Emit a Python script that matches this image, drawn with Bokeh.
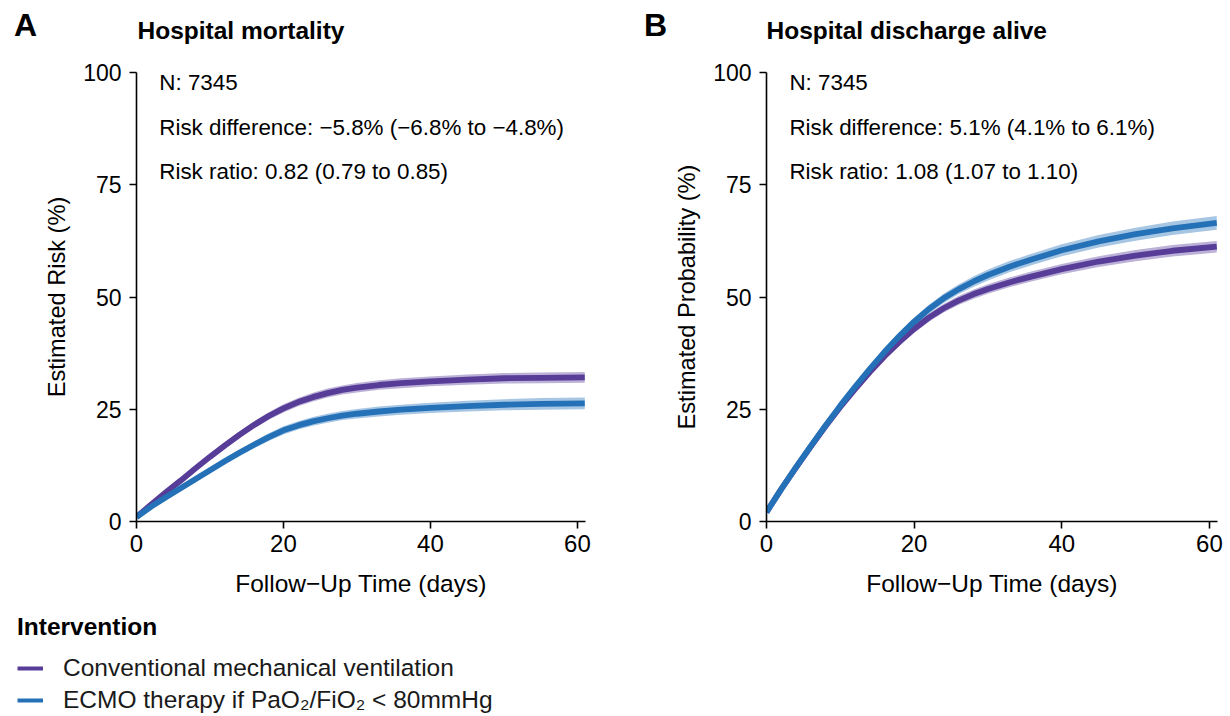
from bokeh.plotting import figure
from bokeh.layouts import row, column
from bokeh.models import ColumnDataSource, Legend, LegendItem, FixedTicker, Range1d
from bokeh.core.properties import value
from bokeh.embed import file_html
from bokeh.resources import INLINE

# ---------------- data ----------------
days = [0, 2, 4, 6, 8, 10, 12, 14, 16, 18, 20, 22, 24, 26, 28, 30, 33, 36, 40, 45, 50, 55, 61]

# Panel A: hospital mortality (%)
mort_cmv = [1.0, 3.8, 6.5, 9.1, 11.8, 14.4, 16.9, 19.3, 21.5, 23.5, 25.2, 26.6, 27.7, 28.6,
            29.3, 29.8, 30.4, 30.8, 31.2, 31.6, 31.9, 32.0, 32.1]
mort_cmv_hw = [0.3, 0.4, 0.5, 0.55, 0.6, 0.65, 0.7, 0.75, 0.8, 0.85, 0.9, 0.92, 0.95, 1.0,
               1.0, 1.05, 1.05, 1.1, 1.1, 1.15, 1.15, 1.2, 1.2]
mort_ecmo = [1.0, 3.3, 5.4, 7.4, 9.4, 11.4, 13.4, 15.3, 17.1, 18.8, 20.3, 21.4, 22.3, 23.0,
             23.6, 24.0, 24.5, 24.9, 25.3, 25.7, 26.0, 26.2, 26.3]
mort_ecmo_hw = [0.3, 0.4, 0.5, 0.55, 0.6, 0.65, 0.7, 0.75, 0.8, 0.85, 0.9, 0.92, 0.95, 1.0,
                1.0, 1.05, 1.1, 1.1, 1.15, 1.2, 1.25, 1.3, 1.3]

# Panel B: hospital discharge alive (%)
disc_cmv = [2.1, 7.2, 12.0, 16.7, 21.2, 25.5, 29.5, 33.3, 36.8, 40.0, 42.9, 45.4, 47.5, 49.2,
            50.6, 51.8, 53.3, 54.6, 56.2, 57.9, 59.2, 60.3, 61.2]
disc_cmv_hw = [0.3, 0.4, 0.5, 0.55, 0.6, 0.65, 0.7, 0.75, 0.8, 0.85, 0.9, 0.92, 0.95, 1.0,
               1.02, 1.05, 1.1, 1.12, 1.15, 1.2, 1.25, 1.3, 1.3]
disc_ecmo = [2.1, 7.2, 12.1, 16.8, 21.4, 25.8, 30.0, 34.0, 37.8, 41.3, 44.5, 47.3, 49.7, 51.7,
             53.4, 54.9, 56.8, 58.4, 60.4, 62.4, 64.0, 65.3, 66.5]
disc_ecmo_hw = [0.3, 0.4, 0.5, 0.6, 0.65, 0.7, 0.75, 0.8, 0.85, 0.9, 0.95, 1.0, 1.05, 1.1,
                1.15, 1.2, 1.25, 1.3, 1.35, 1.4, 1.45, 1.5, 1.55]

x_ticks = [0, 20, 40, 60]
y_ticks = [0, 25, 50, 75, 100]

groups = ["Conventional mechanical ventilation", "ECMO therapy if PaO\u2082/FiO\u2082 < 80mmHg"]

stats_a = ["N: 7345",
           "Risk difference: \u22125.8% (\u22126.8% to \u22124.8%)",
           "Risk ratio: 0.82 (0.79 to 0.85)"]
stats_b = ["N: 7345",
           "Risk difference: 5.1% (4.1% to 6.1%)",
           "Risk ratio: 1.08 (1.07 to 1.10)"]

PURPLE = "#573C98"
BLUE = "#2471B8"
FONT = "Liberation Sans"


def make_header(letter, title, width, letter_x, title_x):
    h = figure(width=width, height=50, toolbar_location=None, output_backend="svg",
               x_range=Range1d(0, width), y_range=Range1d(50, 0),
               x_axis_location=None, y_axis_location=None, min_border=0)
    h.outline_line_color = None
    h.grid.visible = False
    h.text(x=[letter_x], y=[24], text=[letter], text_font=value(FONT),
           text_font_size="32px", text_font_style="bold", text_align="center",
           text_baseline="middle", text_color="black")
    h.text(x=[title_x], y=[30], text=[title], text_font=value(FONT),
           text_font_size="24.5px", text_font_style="bold", text_align="left",
           text_baseline="middle", text_color="black")
    return h


def make_panel(ylabel, cmv, cmv_hw, ecmo, ecmo_hw, stats, width, border_left, border_right):
    p = figure(width=width, height=550, toolbar_location=None, output_backend="svg",
               x_range=Range1d(0, 61.1), y_range=Range1d(0, 100),
               min_border_left=border_left, min_border_top=22, min_border_right=border_right,
               min_border_bottom=79)
    p.outline_line_color = None
    p.grid.visible = False

    for ax in (p.xaxis[0], p.yaxis[0]):
        ax.axis_line_color = "black"
        ax.axis_line_width = 1.6
        ax.major_tick_line_color = "black"
        ax.major_tick_line_width = 1.6
        ax.major_tick_out = 7
        ax.major_tick_in = 0
        ax.minor_tick_line_color = None
        ax.major_label_text_font = FONT
        ax.major_label_text_color = "black"
        ax.axis_label_text_font = FONT
        ax.axis_label_text_font_style = "normal"
        ax.axis_label_text_color = "black"

    p.xaxis.ticker = FixedTicker(ticks=x_ticks)
    p.yaxis.ticker = FixedTicker(ticks=y_ticks)
    p.xaxis.major_label_text_font_size = "24px"
    p.yaxis.major_label_text_font_size = "23px"
    p.xaxis.axis_label = "Follow\u2212Up Time (days)"
    p.yaxis.axis_label = ylabel
    p.xaxis.axis_label_text_font_size = "24.5px"
    p.yaxis.axis_label_text_font_size = "23.6px"
    p.xaxis.major_label_standoff = 6
    p.xaxis.axis_label_standoff = 15
    p.yaxis.major_label_standoff = 8
    p.yaxis.axis_label_standoff = 10

    for est, hw, col in ((cmv, cmv_hw, PURPLE), (ecmo, ecmo_hw, BLUE)):
        src = ColumnDataSource(dict(
            x=days, y=est,
            lo=[e - h for e, h in zip(est, hw)],
            hi=[e + h for e, h in zip(est, hw)]))
        p.varea(x="x", y1="lo", y2="hi", source=src, fill_color=col, fill_alpha=0.4)
        p.line(x="x", y="y", source=src, line_color=col, line_width=5.8)

    tsrc = ColumnDataSource(dict(x=[3.1, 3.1, 3.1], y=[97.8, 87.8, 78.0], t=stats))
    p.text(x="x", y="y", text="t", source=tsrc, text_font=value(FONT),
           text_font_size="22.4px", text_align="left", text_baseline="middle",
           text_color="black")
    return p


ha = make_header("A", "Hospital mortality", 638, 25, 137)
hb = make_header("B", "Hospital discharge alive", 590, 17, 128)
pa = make_panel("Estimated Risk (%)", mort_cmv, mort_cmv_hw, mort_ecmo, mort_ecmo_hw,
                stats_a, 638, 136, 53)
pb = make_panel("Estimated Probability (%)", disc_cmv, disc_cmv_hw, disc_ecmo, disc_ecmo_hw,
                stats_b, 590, 128, 11)

leg = figure(width=638, height=114, toolbar_location=None, output_backend="svg",
             x_range=Range1d(0, 1), y_range=Range1d(0, 1),
             x_axis_location=None, y_axis_location=None, min_border=0)
leg.outline_line_color = None
leg.grid.visible = False
# legend-only renderers (their data lie outside the visible range)
r1 = leg.line(x=[5, 6], y=[5, 6], line_color=PURPLE, line_width=4)
r2 = leg.line(x=[5, 6], y=[5, 6], line_color=BLUE, line_width=4)
legend = Legend(items=[LegendItem(label=groups[0], renderers=[r1]),
                       LegendItem(label=groups[1], renderers=[r2])],
                location=(17, 0), title="Intervention",
                title_text_font=FONT, title_text_font_size="24.5px",
                title_text_font_style="bold", title_text_color="black",
                title_standoff=13,
                label_text_font=FONT, label_text_font_size="24.5px",
                label_text_color="#1a1a1a", label_standoff=20,
                glyph_width=26, glyph_height=14, label_height=14, spacing=4,
                padding=0, margin=0, border_line_color=None,
                background_fill_alpha=0)
leg.add_layout(legend)

layout = column(row(ha, hb), row(pa, pb), leg)
open("out.html", "w").write(file_html(layout, INLINE))
